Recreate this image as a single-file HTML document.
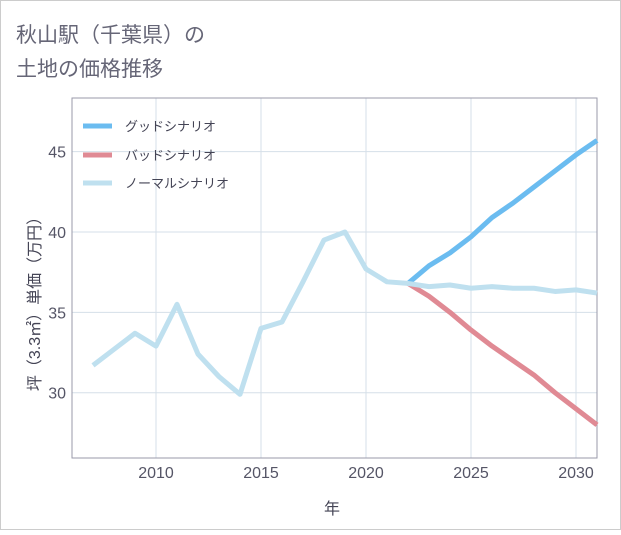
<!DOCTYPE html>
<html><head><meta charset="utf-8"><style>
body{margin:0;background:#fff;}
svg text{font-family:"Liberation Sans","Noto Sans CJK JP",sans-serif;}
</style></head><body>
<svg width="621" height="530">
<rect x="0.5" y="0.5" width="620" height="529" fill="#fff" stroke="#ccc"/>
<text x="16" y="42" font-size="21" fill="#667">秋山駅（千葉県）の</text>
<text x="16" y="76" font-size="21" fill="#667">土地の価格推移</text>
<g id="grid"></g>
<rect x="72" y="98" width="525" height="360" fill="none" stroke="#99a" stroke-width="1"/>
<g id="series"></g>
<g id="axes"></g>
<text x="332" y="514" font-size="16" fill="#445" text-anchor="middle">年</text>
<text transform="translate(40,300) rotate(-90)" font-size="16" fill="#445" text-anchor="middle">坪（3.3㎡）単価（万円）</text>
<g>
<line x1="83" y1="126" x2="112" y2="126" stroke="#6bbcf0" stroke-width="5"/>
<text x="125" y="131" font-size="13" fill="#445">グッドシナリオ</text>
<line x1="83" y1="155" x2="112" y2="155" stroke="#e08a94" stroke-width="5"/>
<text x="125" y="160" font-size="13" fill="#445">バッドシナリオ</text>
<line x1="83" y1="183" x2="112" y2="183" stroke="#bfe0ef" stroke-width="5"/>
<text x="125" y="188" font-size="13" fill="#445">ノーマルシナリオ</text>
</g>
</svg>
<script>
const normalYears=[2007,2008,2009,2010,2011,2012,2013,2014,2015,2016,2017,2018,2019,2020,2021,2022,2023,2024,2025,2026,2027,2028,2029,2030,2031];
const normalValues=[31.7,32.7,33.7,32.9,35.5,32.4,31.0,29.9,34.0,34.4,36.9,39.5,40.0,37.7,36.9,36.8,36.6,36.7,36.5,36.6,36.5,36.5,36.3,36.4,36.2];
const scenarioYears=[2022,2023,2024,2025,2026,2027,2028,2029,2030,2031];
const goodValues=[36.8,37.9,38.7,39.7,40.9,41.8,42.8,43.8,44.8,45.7];
const badValues=[36.8,36.0,35.0,33.9,32.9,32.0,31.1,30.0,29.0,28.0];
const xTicks=[2010,2015,2020,2025,2030];
const yTicks=[30,35,40,45];
const NS="http://www.w3.org/2000/svg";
const X=y=>72+(y-2006)*21;
const Y=v=>232-(v-40)*16.07;
const grid=document.getElementById('grid'),axes=document.getElementById('axes'),ser=document.getElementById('series');
function mk(tag,attrs,parent){const e=document.createElementNS(NS,tag);for(const k in attrs)e.setAttribute(k,attrs[k]);parent.appendChild(e);return e;}
xTicks.forEach(t=>{
 const l=mk('line',{x1:X(t),x2:X(t),y1:98,y2:458,stroke:'#d5dfe8'},grid);
 
 
 const tx=mk('text',{x:X(t),y:478,'font-size':16,fill:'#556','text-anchor':'middle'},axes);
 tx.textContent=t;
 
 
});
yTicks.forEach(t=>{
 const l=mk('line',{x1:72,x2:597,y1:Y(t),y2:Y(t),stroke:'#d5dfe8'},grid);
 
 
 const tx=mk('text',{x:66,y:Y(t)+6,'font-size':16,fill:'#556','text-anchor':'end'},axes);
 tx.textContent=t;
 
 
});
function line(xs,vs,color,name){
 const p=mk('polyline',{points:xs.map((x,i)=>X(x)+','+Y(vs[i])).join(' '),fill:'none',stroke:color,'stroke-width':5,'stroke-linejoin':'round'},ser);
 
 
}
line(scenarioYears,goodValues,'#6bbcf0','good-scenario-line');
line(scenarioYears,badValues,'#e08a94','bad-scenario-line');
line(normalYears,normalValues,'#bfe0ef','normal-scenario-line');
</script>
</body></html>
